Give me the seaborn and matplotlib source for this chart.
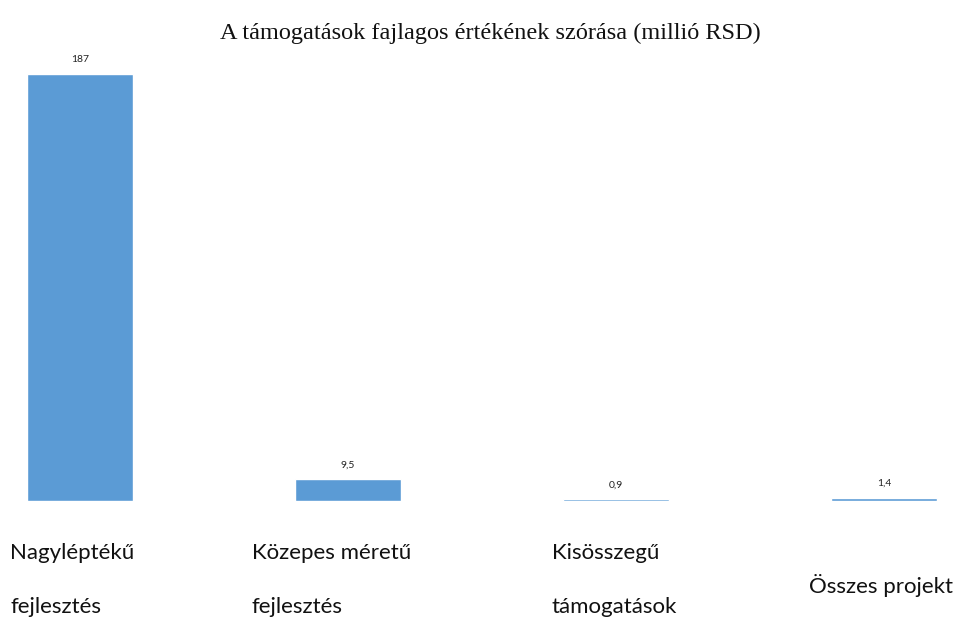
import matplotlib
matplotlib.use("Agg")
import matplotlib.pyplot as plt
import seaborn as sns
import pandas as pd

# data
categories = ["Nagyléptékű\nfejlesztés", "Közepes méretű\nfejlesztés",
              "Kisösszegű\ntámogatások", "Összes projekt"]
values = [187, 9.5, 0.9, 1.4]
value_labels = ["187", "9,5", "0,9", "1,4"]
title = "A támogatások fajlagos értékének szórása (millió RSD)"

# layout: label left edge relative to bar centre (data units), vertical position (axes units)
label_dx = [-0.26, -0.36, -0.24, -0.28]
label_y = [-0.185, -0.185, -0.185, -0.197]

sns.set_style("white")
plt.rcParams["font.family"] = ["Lato", "DejaVu Sans"]

df = pd.DataFrame({"cat": categories, "val": values})

fig = plt.figure(figsize=(9.71, 6.21), dpi=100)
ax = fig.add_axes([0.0, 0.1932, 1.0, 0.6876])
sns.barplot(data=df, x="cat", y="val", color="#5B9BD5", width=0.396,
            saturation=1, ax=ax)

ax.set_xlim(-80 / 268, (971 - 80) / 268)
ax.set_ylim(0, 187)
ax.axis("off")

# value labels above the bars
for bar, lab in zip(ax.patches, value_labels):
    ax.annotate(lab, (bar.get_x() + bar.get_width() / 2, bar.get_height()),
                xytext=(0, 7), textcoords="offset points",
                ha="center", va="bottom", fontsize=7.5, color="#222222")

# category labels under the bars
for i, cat in enumerate(categories):
    ax.text(i + label_dx[i], label_y[i], cat,
            transform=ax.get_xaxis_transform(),
            ha="left", va="center", fontsize=16, linespacing=3.1,
            color="#111111", clip_on=False)

fig.text(0.505, 0.947, title, ha="center", va="center", fontsize=17.5,
         family="Liberation Serif", color="#111111")

fig.savefig("out.png", dpi=100)
